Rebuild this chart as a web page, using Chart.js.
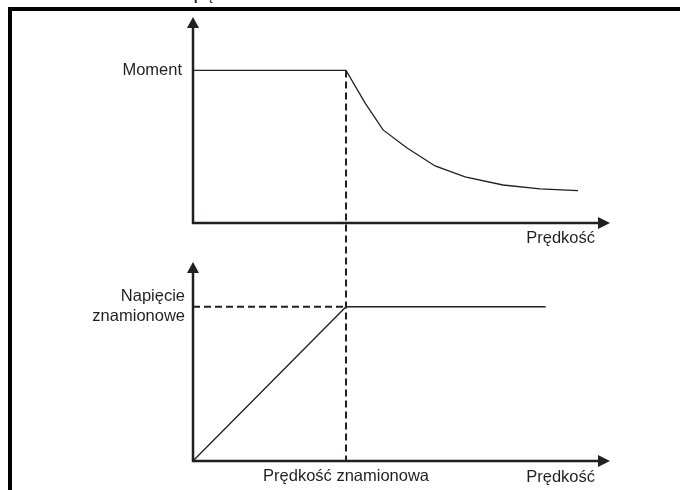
<!DOCTYPE html>
<html lang="pl">
<head>
<meta charset="UTF-8">
<title>Moment i napięcie</title>
<script src="https://cdn.jsdelivr.net/npm/chart.js"></script>
<style>
body { margin:0; background:#fff; width:680px; height:490px; overflow:hidden; position:relative; font-family:"Liberation Sans", Arial, sans-serif; }
.frame { position:absolute; left:8px; top:7px; right:0; bottom:0; border-left:4px solid #000; border-top:4px solid #000; }
.caption { position:absolute; left:0; top:0; width:680px; height:4px; overflow:hidden; }
.caption span { position:absolute; left:112px; top:-13px; font-weight:bold; font-size:14px; color:#231f20; white-space:nowrap; }
canvas { position:absolute; left:0; }
#torqueChart { top:0; }
#voltageChart { top:250px; }
</style>
</head>
<body>
<div class="caption"><span>Moment i napięcie</span></div>
<div class="frame"></div>
<canvas id="torqueChart" width="680" height="250"></canvas>
<canvas id="voltageChart" width="680" height="240"></canvas>

<script>
// dane (prędkość i moment w jednostkach względnych)
const speedTorque = [0, 1, 1.124, 1.242, 1.399, 1.582, 1.778, 2.026, 2.268, 2.516];
const torque = [1, 1, 0.787, 0.61, 0.492, 0.374, 0.302, 0.249, 0.223, 0.212];
const speedVoltage = [0, 1, 2.305];
const voltage = [0, 1, 1];
const ratedSpeed = 1;
const ratedTorque = 1;
const ratedVoltage = 1;
const speedMax = 2.627;
const torqueMax = 1.35;
const voltageMax = 1.29;
const torqueLabel = 'Moment';
const voltageLabel = ['Napięcie', 'znamionowe'];
const speedLabel = 'Prędkość';
const ratedSpeedLabel = 'Prędkość znamionowa';

const ink = '#231f20';
const font = { family: '"Liberation Sans", Arial, sans-serif', size: 16.5 };
const dash = [7, 4];

const pts = (xs, ys) => xs.map((x, i) => ({ x: x, y: ys[i] }));

// osie ze strzałkami i przerywana linia prędkości znamionowej
const arrowAxes = {
    id: 'arrowAxes',
    afterDatasetsDraw(chart, args, opts) {
        const { ctx, chartArea: a } = chart;
        ctx.save();
        ctx.strokeStyle = ink;
        ctx.fillStyle = ink;

        // przerywana pionowa linia
        const xr = chart.scales.x.getPixelForValue(ratedSpeed);
        let y0, y1;
        if (opts.part === 'top') {
            y0 = chart.scales.y.getPixelForValue(ratedTorque);
            y1 = chart.height;
            ctx.lineDashOffset = 0;
        } else {
            const top = torqueChart.scales.y.getPixelForValue(ratedTorque);
            const period = dash[0] + dash[1];
            y0 = 0;
            y1 = a.bottom;
            ctx.lineDashOffset = (chart.canvas.offsetTop - top) % period;
        }
        ctx.setLineDash(dash);
        ctx.lineWidth = 2;
        ctx.beginPath();
        ctx.moveTo(xr, y0);
        ctx.lineTo(xr, y1);
        ctx.stroke();
        ctx.setLineDash([]);

        ctx.lineWidth = 2.5;
        // oś pionowa
        ctx.beginPath();
        ctx.moveTo(a.left, a.bottom + 1);
        ctx.lineTo(a.left, a.top + 10);
        ctx.stroke();
        ctx.beginPath();
        ctx.moveTo(a.left, a.top);
        ctx.lineTo(a.left - 6, a.top + 11);
        ctx.lineTo(a.left + 6, a.top + 11);
        ctx.closePath();
        ctx.fill();
        // oś pozioma
        const tip = a.right + 15;
        ctx.beginPath();
        ctx.moveTo(a.left - 1, a.bottom);
        ctx.lineTo(tip - 10, a.bottom);
        ctx.stroke();
        ctx.beginPath();
        ctx.moveTo(tip, a.bottom);
        ctx.lineTo(tip - 12, a.bottom - 6);
        ctx.lineTo(tip - 12, a.bottom + 6);
        ctx.closePath();
        ctx.fill();
        ctx.restore();
    }
};

function noPad(s) {
    s.paddingTop = 0;
    s.paddingBottom = 0;
    s.paddingLeft = 0;
    s.paddingRight = 0;
}

function axes(yMax, yValue, yLabel, yPad, xHeight, xTicks, titlePad) {
    return {
        x: {
            type: 'linear', min: 0, max: speedMax,
            grid: { display: false, drawTicks: false },
            border: { display: false },
            afterBuildTicks: s => { s.ticks = [{ value: ratedSpeed }]; },
            afterFit: s => { s.height = xHeight; noPad(s); },
            ticks: { display: xTicks, padding: 6, color: ink, font: font, callback: () => ratedSpeedLabel },
            title: { display: true, text: speedLabel, align: 'end', color: ink, font: font, padding: { top: 0, bottom: titlePad } }
        },
        y: {
            type: 'linear', min: 0, max: yMax,
            grid: { display: false, drawTicks: false },
            border: { display: false },
            afterBuildTicks: s => { s.ticks = [{ value: yValue }]; },
            afterFit: s => { s.width = 193; noPad(s); },
            ticks: { padding: yPad, color: ink, font: font, callback: () => yLabel }
        }
    };
}

const common = {
    responsive: false,
    animation: false,
    plugins: { legend: { display: false }, tooltip: { enabled: false } },
    elements: { point: { radius: 0 }, line: { tension: 0, borderColor: ink, borderWidth: 1.3 } }
};

const torqueChart = new Chart(document.getElementById('torqueChart'), {
    type: 'line',
    data: {
        datasets: [{ data: pts(speedTorque, torque), borderColor: ink }]
    },
    options: Object.assign({}, common, {
        layout: { padding: { top: 17, right: 85, left: 0, bottom: 0 } },
        scales: axes(torqueMax, ratedTorque, torqueLabel, 11, 27, false, 2),
        plugins: Object.assign({}, common.plugins, { arrowAxes: { part: 'top' } })
    }),
    plugins: [arrowAxes]
});

new Chart(document.getElementById('voltageChart'), {
    type: 'line',
    data: {
        datasets: [
            { data: pts(speedVoltage, voltage), borderColor: ink },
            { data: pts([0, ratedSpeed], [ratedVoltage, ratedVoltage]), borderColor: ink, borderWidth: 2, borderDash: dash }
        ]
    },
    options: Object.assign({}, common, {
        layout: { padding: { top: 12, right: 85, left: 0, bottom: 0 } },
        scales: axes(voltageMax, ratedVoltage, voltageLabel, 8, 29, true, 3),
        plugins: Object.assign({}, common.plugins, { arrowAxes: { part: 'bottom' } })
    }),
    plugins: [arrowAxes]
});
</script>
</body>
</html>
